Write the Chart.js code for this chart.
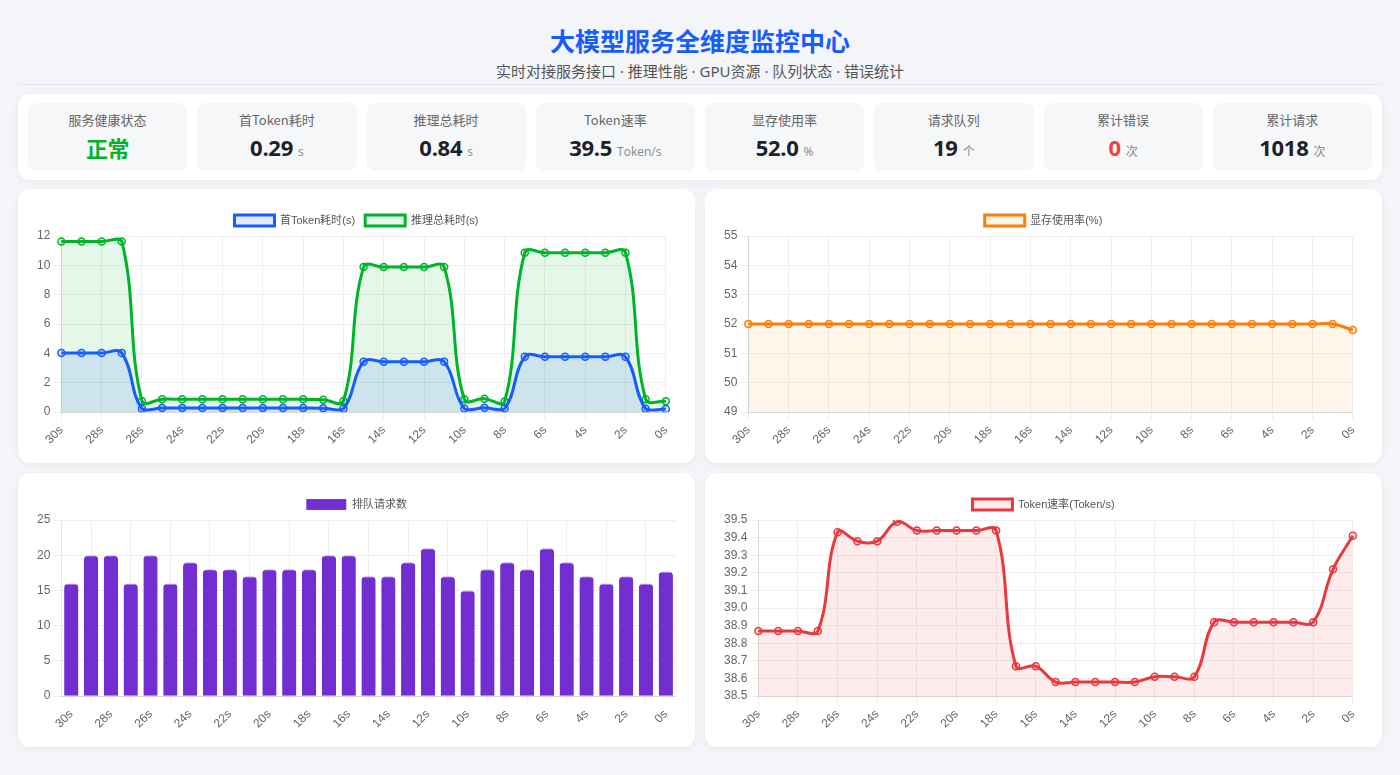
<!DOCTYPE html>
<html lang="zh-CN">
<head>
<meta charset="UTF-8">
<title>大模型服务全维度监控中心</title>
<script src="https://cdn.jsdelivr.net/npm/chart.js@4.4.1/dist/chart.umd.min.js"></script>
<style>
  * { box-sizing: border-box; }
  body {
    margin: 0;
    padding: 0 18px;
    background: #f3f5f8;
    font-family: "Noto Sans CJK SC", "Noto Sans", sans-serif;
    width: 1400px;
    height: 775px;
    overflow: hidden;
  }
  .header {
    text-align: center;
    padding-top: 24px;
    height: 85px;
    border-bottom: 1px solid #e5e7eb;
  }
  .header h1 {
    margin: 0;
    font-size: 25px;
    line-height: 32px;
    color: #165dff;
    font-weight: 700;
  }
  .header p {
    margin: 4px 0 0;
    font-size: 15px;
    line-height: 22px;
    color: #555;
    font-family: "Noto Sans", "Noto Sans CJK SC", sans-serif;
  }
  .kpis {
    margin-top: 9px;
    height: 86px;
    background: #fff;
    border-radius: 12px;
    box-shadow: 0 2px 8px rgba(0,0,0,0.05);
    padding: 9px 10px;
    display: grid;
    grid-template-columns: repeat(8, 1fr);
    gap: 10px;
  }
  .kpi {
    background: #f6f7f9;
    border-radius: 8px;
    text-align: center;
    padding-top: 7px;
  }
  .kpi .label { font-size: 13px; color: #666; line-height: 20px; }
  .kpi .value { font-size: 22px; font-weight: 700; color: #1d2129; line-height: 30px; margin-top: 2px; font-family: "Open Sans", "Noto Sans CJK SC", sans-serif; letter-spacing: -0.3px; }
  .kpi .value.ok { color: #00b42a; font-family: "Noto Sans CJK SC", sans-serif; }
  .kpi .value.err { color: #f53f3f; }
  .kpi .unit { font-size: 12px; font-weight: 400; color: #888; margin-left: 5px; letter-spacing: 0; }
  .grid {
    margin-top: 9px;
    display: grid;
    grid-template-columns: 1fr 1fr;
    grid-auto-rows: 274px;
    gap: 10px;
  }
  .card {
    background: #fff;
    border-radius: 12px;
    box-shadow: 0 2px 8px rgba(0,0,0,0.05);
    padding: 16px 16px 13px 16px;
    position: relative;
  }
  .card canvas { width: 100% !important; height: 100% !important; }
</style>
</head>
<body>
<div class="header">
  <h1>大模型服务全维度监控中心</h1>
  <p>实时对接服务接口 · 推理性能 · GPU资源 · 队列状态 · 错误统计</p>
</div>
<div class="kpis">
  <div class="kpi"><div class="label">服务健康状态</div><div class="value ok">正常</div></div>
  <div class="kpi"><div class="label">首Token耗时</div><div class="value">0.29<span class="unit">s</span></div></div>
  <div class="kpi"><div class="label">推理总耗时</div><div class="value">0.84<span class="unit">s</span></div></div>
  <div class="kpi"><div class="label">Token速率</div><div class="value">39.5<span class="unit">Token/s</span></div></div>
  <div class="kpi"><div class="label">显存使用率</div><div class="value">52.0<span class="unit">%</span></div></div>
  <div class="kpi"><div class="label">请求队列</div><div class="value">19<span class="unit">个</span></div></div>
  <div class="kpi"><div class="label">累计错误</div><div class="value err">0<span class="unit">次</span></div></div>
  <div class="kpi"><div class="label">累计请求</div><div class="value">1018<span class="unit">次</span></div></div>
</div>
<div class="grid">
  <div class="card"><canvas id="latencyChart"></canvas></div>
  <div class="card"><canvas id="memChart"></canvas></div>
  <div class="card"><canvas id="queueChart"></canvas></div>
  <div class="card"><canvas id="rateChart"></canvas></div>
</div>
<script>
// time labels, 30s ago -> now
const timeLabels = ['30s','29s','28s','27s','26s','25s','24s','23s','22s','21s','20s','19s','18s','17s','16s','15s','14s','13s','12s','11s','10s','9s','8s','7s','6s','5s','4s','3s','2s','1s','0s']

const firstTokenLatency = [4.03,4.03,4.03,4.03,0.23,0.28,0.28,0.28,0.28,0.28,0.28,0.28,0.28,0.27,0.23,3.43,3.43,3.43,3.43,3.43,0.24,0.3,0.24,3.77,3.77,3.77,3.77,3.77,3.77,0.23,0.22]
const totalLatency = [11.63,11.63,11.63,11.63,0.76,0.88,0.88,0.88,0.88,0.88,0.88,0.88,0.88,0.84,0.76,9.88,9.88,9.88,9.88,9.88,0.88,0.92,0.72,10.86,10.86,10.86,10.86,10.86,10.86,0.88,0.74]
const memUsage = [52,52,52,52,52,52,52,52,52,52,52,52,52,52,52,52,52,52,52,52,52,52,52,52,52,52,52,52,52,52,51.8]
const queueSize = [16,20,20,16,20,16,19,18,18,17,18,18,18,20,20,17,17,19,21,17,15,18,19,18,21,19,17,16,17,16,17.7]
const tokenRate = [38.87,38.87,38.87,38.87,39.43,39.38,39.38,39.49,39.44,39.44,39.44,39.44,39.44,38.67,38.67,38.58,38.58,38.58,38.58,38.58,38.61,38.61,38.61,38.92,38.92,38.92,38.92,38.92,38.92,39.22,39.41]

const gridColor = '#efefef'

function baseOptions(yOpts) {
  return {
    responsive: true,
    maintainAspectRatio: false,
    animation: false,
    plugins: {
      legend: {
        position: 'top',
        labels: { color: '#555', font: { size: 11 } }
      }
    },
    scales: {
      x: {
        grid: { color: gridColor },
        ticks: { color: '#666', maxRotation: 45, minRotation: 45, font: { size: 12 } }
      },
      y: Object.assign({
        grid: { color: gridColor }
      }, yOpts)
    }
  }
}

function lineSet(label, data, color, fillColor) {
  return {
    label: label,
    data: data,
    borderColor: color,
    backgroundColor: fillColor,
    fill: true,
    tension: 0.4,
    borderWidth: 3,
    pointRadius: 3.5,
    pointBorderWidth: 1.5
  }
}

new Chart(document.getElementById('latencyChart'), {
  type: 'line',
  data: {
    labels: timeLabels,
    datasets: [
      lineSet('首Token耗时(s)', firstTokenLatency, '#165dff', 'rgba(22, 93, 255, 0.12)'),
      lineSet('推理总耗时(s)', totalLatency, '#00b42a', 'rgba(0, 180, 42, 0.1)')
    ]
  },
  options: baseOptions({ min: 0, max: 12, ticks: { color: '#666', stepSize: 2, font: { size: 12 } } })
})

new Chart(document.getElementById('memChart'), {
  type: 'line',
  data: {
    labels: timeLabels,
    datasets: [lineSet('显存使用率(%)', memUsage, '#ff7d00', 'rgba(255, 125, 0, 0.08)')]
  },
  options: baseOptions({ min: 49, max: 55, ticks: { color: '#666', stepSize: 1, font: { size: 12 } } })
})

new Chart(document.getElementById('queueChart'), {
  type: 'bar',
  data: {
    labels: timeLabels,
    datasets: [{
      label: '排队请求数',
      data: queueSize,
      backgroundColor: '#722ed1',
      borderColor: '#c9a6f5',
      borderWidth: { top: 1, left: 0, right: 0, bottom: 0 },
      borderRadius: 4
    }]
  },
  options: baseOptions({ min: 0, max: 25, ticks: { color: '#666', stepSize: 5, font: { size: 12 } } })
})

new Chart(document.getElementById('rateChart'), {
  type: 'line',
  data: {
    labels: timeLabels,
    datasets: [lineSet('Token速率(Token/s)', tokenRate, '#e8393e', 'rgba(245, 63, 63, 0.1)')]
  },
  options: baseOptions({ min: 38.5, max: 39.5, ticks: { color: '#666', stepSize: 0.1, font: { size: 12 } } })
})
</script>
</body>
</html>
